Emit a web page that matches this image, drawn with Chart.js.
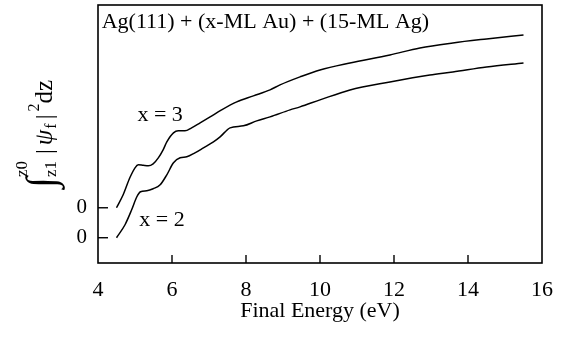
<!DOCTYPE html>
<html>
<head>
<meta charset="utf-8">
<script src="https://cdn.jsdelivr.net/npm/chart.js@4/dist/chart.umd.min.js"></script>
<style>
  html, body { margin: 0; padding: 0; background: #fff; }
  #wrap { width: 564px; height: 339px; }
</style>
</head>
<body>
<div id="wrap"><canvas id="chart" width="564" height="339"></canvas></div>
<script>
// x = 2 curve (lower), signal relative to its own zero
const energyX2 = [4.5, 4.73, 4.91, 5.05, 5.15, 5.32, 5.49, 5.68, 5.86, 6.04, 6.22, 6.40, 6.62, 6.85, 7.12, 7.30, 7.57, 7.93, 8.29, 8.65, 9.19, 9.46, 10.0, 10.81, 11.89, 12.97, 13.59, 14.5, 15.5];
const signalX2 = [0, 1.3, 2.8, 4.1, 4.6, 4.7, 4.9, 5.3, 6.3, 7.5, 8.0, 8.1, 8.5, 9.0, 9.6, 10.1, 11.0, 11.2, 11.7, 12.1, 12.8, 13.1, 13.8, 14.8, 15.6, 16.3, 16.6, 17.1, 17.5];

// x = 3 curve (upper)
const energyX3 = [4.5, 4.68, 4.86, 5.0, 5.09, 5.22, 5.36, 5.49, 5.63, 5.76, 5.86, 6.04, 6.17, 6.35, 6.53, 6.76, 7.03, 7.34, 7.75, 8.2, 8.65, 8.92, 9.46, 10.0, 10.81, 11.89, 12.7, 13.59, 14.5, 15.5];
const signalX3 = [0, 1.3, 3.0, 4.0, 4.3, 4.25, 4.2, 4.4, 5.0, 5.8, 6.6, 7.5, 7.7, 7.7, 8.0, 8.5, 9.1, 9.8, 10.6, 11.2, 11.8, 12.3, 13.1, 13.8, 14.5, 15.3, 16.0, 16.5, 16.9, 17.3];

// vertical offsets of each curve's zero, and the zero tick labels
const offsetX3 = 3;
const offsetX2 = 0;
const yTickValues = [offsetX2, offsetX3];
const yTickLabels = ['0', '0'];
const xTickValues = [4, 6, 8, 10, 12, 14, 16];

// curve labels: [text, energy, value]
const curveLabels = [
    ['x = 3', 5.68, 12.3],
    ['x = 2', 5.73, 1.8]
];
const plotTitle = 'Ag(111) + (x-ML Au) + (15-ML Ag)';

const SERIF = "'Liberation Serif', 'Times New Roman', serif";

function points(energy, signal, offset) {
    return energy.map((e, i) => ({ x: e, y: signal[i] + offset }));
}

// box, inward ticks, labels and the rotated y-axis expression
const framePlugin = {
    id: 'frame',
    afterDraw(chart) {
        const { ctx, chartArea } = chart;
        const xs = chart.scales.x;
        const ys = chart.scales.y;
        ctx.save();
        ctx.strokeStyle = '#000';
        ctx.lineWidth = 1.6;
        ctx.strokeRect(chartArea.left, chartArea.top, chartArea.right - chartArea.left, chartArea.bottom - chartArea.top);

        ctx.lineWidth = 1.4;
        xTickValues.slice(1, -1).forEach(v => {
            const px = xs.getPixelForValue(v);
            ctx.beginPath();
            ctx.moveTo(px, chartArea.bottom);
            ctx.lineTo(px, chartArea.bottom - 8);
            ctx.stroke();
        });
        yTickValues.forEach(v => {
            const py = ys.getPixelForValue(v);
            ctx.beginPath();
            ctx.moveTo(chartArea.left, py);
            ctx.lineTo(chartArea.left + 10, py);
            ctx.stroke();
        });

        ctx.fillStyle = '#000';
        ctx.font = '22px ' + SERIF;
        ctx.textBaseline = 'middle';
        ctx.textAlign = 'center';
        curveLabels.forEach(([t, e, v]) => {
            ctx.fillText(t, xs.getPixelForValue(e), ys.getPixelForValue(v));
        });
        ctx.textAlign = 'left';
        ctx.fillText(plotTitle, xs.getPixelForValue(4.1), ys.getPixelForValue(21.6));

        // y-axis title:  ∫_{z1}^{z0} |ψ_f|^2 dz
        const pieces = [
            { t: '\u222B', f: '40px ' + SERIF, dy: 2 },
            { t: 'z1', f: '17px ' + SERIF, dy: 4, sup: 'z0', supDy: -25, gap: 7 },
            { t: '|', f: '24px ' + SERIF, dy: 0, gap: 4 },
            { t: '\u03C8', f: 'italic 25px ' + SERIF, dy: 0, gap: 1 },
            { t: 'f', f: '16px ' + SERIF, dy: 4, gap: 4 },
            { t: '|', f: '24px ' + SERIF, dy: 0, gap: 3 },
            { t: '2', f: '16px ' + SERIF, dy: -13 },
            { t: 'dz', f: '25px ' + SERIF, dy: 0 }
        ];
        let total = 0;
        pieces.forEach(p => {
            ctx.font = p.f;
            p.w = ctx.measureText(p.t).width;
            if (p.sup) p.w = Math.max(p.w, ctx.measureText(p.sup).width);
            total += p.w + (p.gap || 0);
        });
        ctx.translate(chartArea.left - 46, (chartArea.top + chartArea.bottom) / 2);
        ctx.rotate(-Math.PI / 2);
        ctx.textBaseline = 'alphabetic';
        ctx.textAlign = 'left';
        let pos = -total / 2;
        pieces.forEach(p => {
            ctx.font = p.f;
            ctx.fillText(p.t, pos, p.dy);
            if (p.sup) ctx.fillText(p.sup, pos, p.supDy);
            pos += p.w + (p.gap || 0);
        });
        ctx.restore();
    }
};

new Chart(document.getElementById('chart'), {
    type: 'line',
    data: {
        datasets: [
            {
                label: 'x = 3',
                data: points(energyX3, signalX3, offsetX3),
                borderColor: '#000',
                borderWidth: 1.5,
                pointRadius: 0,
                fill: false,
                cubicInterpolationMode: 'monotone'
            },
            {
                label: 'x = 2',
                data: points(energyX2, signalX2, offsetX2),
                borderColor: '#000',
                borderWidth: 1.5,
                pointRadius: 0,
                fill: false,
                cubicInterpolationMode: 'monotone'
            }
        ]
    },
    options: {
        responsive: false,
        animation: false,
        devicePixelRatio: 1,
        layout: { padding: { left: 0, right: 22, top: 5, bottom: 0 } },
        plugins: {
            legend: { display: false },
            tooltip: { enabled: false }
        },
        scales: {
            x: {
                type: 'linear',
                min: 4,
                max: 16,
                afterBuildTicks: axis => { axis.ticks = xTickValues.map(v => ({ value: v })); },
                afterFit: axis => { axis.height = 76; axis.paddingLeft = 0; axis.paddingRight = 0; },
                grid: { display: false, drawTicks: false },
                border: { display: false },
                ticks: {
                    color: '#000',
                    padding: 14,
                    maxRotation: 0,
                    font: { family: SERIF, size: 22 }
                },
                title: {
                    display: true,
                    text: 'Final Energy (eV)',
                    color: '#000',
                    padding: { top: 2, bottom: 15 },
                    font: { family: SERIF, size: 22 }
                }
            },
            y: {
                type: 'linear',
                min: -2.53,
                max: 23.3,
                afterBuildTicks: axis => { axis.ticks = yTickValues.map(v => ({ value: v })); },
                afterFit: axis => { axis.width = 98; axis.paddingTop = 0; axis.paddingBottom = 0; },
                grid: { display: false, drawTicks: false },
                border: { display: false },
                ticks: {
                    color: '#000',
                    padding: 11,
                    font: { family: SERIF, size: 21 },
                    callback: (v, i) => yTickLabels[i]
                }
            }
        }
    },
    plugins: [framePlugin]
});
</script>
</body>
</html>
